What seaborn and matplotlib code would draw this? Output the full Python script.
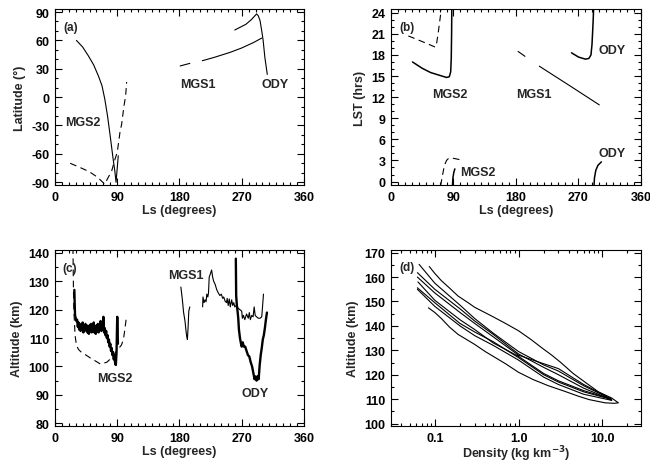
import numpy as np
import matplotlib
matplotlib.use('Agg')
import matplotlib.pyplot as plt
from matplotlib.ticker import MultipleLocator, FixedLocator, NullFormatter, LogLocator
import seaborn as sns

# ---------------- panel (a): latitude vs Ls ----------------
a_mgs2_ls = [31, 40, 48, 56, 63, 68, 72, 76, 80, 84, 86.5, 88.3, 91.5]
a_mgs2_lat = [60, 53, 44, 34, 22, 12, -2, -20, -42, -65, -78, -90, -62]
a_mgs2d_ls = [22, 35, 50, 62, 69, 72, 75.6, 82, 86.8, 90, 94, 96.4, 99.8, 102.2, 103.6]
a_mgs2d_lat = [-70, -74, -79, -85, -90, -92, -86.8, -78, -65.6, -58.5, -37, -28.6, -9.2, 1.4, 16]
a_mgs1_ls1 = [181, 195]
a_mgs1_lat1 = [33, 35.7]
a_mgs1_ls2 = [213, 230, 253, 270, 287, 299]
a_mgs1_lat2 = [38.5, 42, 47.3, 52, 57.7, 62.5]
a_ody_ls = [260, 268, 276, 284, 289, 291.5, 294, 296.5, 299, 301, 303.5, 307]
a_ody_lat = [71, 74, 77, 82, 86, 88, 86, 81, 70, 60, 42, 24]

# ---------------- panel (b): local solar time vs Ls ----------------
b_mgs2_ls1 = [31, 45, 57, 70, 80, 84, 86, 86.8, 87.3, 87.6]
b_mgs2_lst1 = [17, 16.1, 15.5, 15.1, 14.8, 14.9, 15.6, 17.5, 21, 24.6]
b_mgs2_ls2 = [88.5, 89.3, 90.5, 92]
b_mgs2_lst2 = [-0.6, 0.6, 1.3, 1.8]
b_mgs2d_ls1 = [25, 35, 45, 57, 64, 66, 68.5, 70.5, 72.5]
b_mgs2d_lst1 = [20.7, 20.3, 19.9, 19.4, 19.1, 19.8, 21.5, 23, 24.6]
b_mgs2d_ls2 = [71.5, 74, 77, 80, 83, 90, 100]
b_mgs2d_lst2 = [-0.6, 0.8, 2.3, 3.0, 3.3, 3.3, 3.1]
b_mgs1_ls1 = [183, 193]
b_mgs1_lst1 = [18.5, 17.8]
b_mgs1_ls2 = [213.6, 257.8, 300]
b_mgs1_lst2 = [16.4, 13.6, 10.9]
b_ody_ls1 = [260, 270, 280, 285, 288, 289.5, 290.5, 291.2, 291.8]
b_ody_lst1 = [18.3, 17.7, 17.4, 17.5, 18, 19.5, 21.5, 23, 24.6]
b_ody_ls2 = [292.4, 293, 295, 298, 303]
b_ody_lst2 = [-0.6, 0.5, 1.6, 2.3, 2.8]

# ---------------- panel (c): periapsis altitude vs Ls ----------------
c_mgs2d_ls = [26, 26.3, 26.7, 27.3, 29, 31, 34, 39, 45, 51, 58, 66, 75, 84, 89, 96, 99, 101, 103.6]
c_mgs2d_alt = [142, 135, 127, 120, 111, 107.5, 106, 104.8, 104, 103, 102, 100.8, 101.5, 103.5, 105.5, 107.5, 109.5, 113, 118]
c_mgs2_ls = [28, 28.5, 29, 30, 31, 32, 33, 34, 35, 36, 37, 38, 39, 40, 41, 42, 43, 44,
             45, 46, 47, 48, 49, 50, 51, 52, 53, 54, 55, 56, 57, 58, 59, 60, 61, 62,
             63, 64, 65, 66, 67, 68, 69, 70, 71, 72, 73, 74, 75, 76, 77, 78, 79, 80,
             81, 82, 83, 84, 85, 86, 87, 88, 89, 90, 91]
c_mgs2_alt = [127, 122, 118, 117, 116, 116.5, 114, 115.5, 113, 115, 112.5, 114.5, 113, 115.5, 112, 114, 112.5, 115,
              113, 114.5, 112, 114, 111.5, 114.5, 112.5, 115, 112, 114, 112.5, 115.5, 112, 114, 111.5, 114.5, 112.5, 115,
              112, 114.5, 113, 116, 112.5, 115.5, 113, 117.5, 112, 113.5, 111, 112.5, 110, 111, 108.5, 109.5, 107, 108,
              105.5, 106.5, 104, 105, 102.5, 104, 101, 100.5, 105, 117.5, 108]
c_mgs1_ls1 = [182, 184, 186, 188, 189.5, 190.5, 191.5, 192.5, 193.5, 195]
c_mgs1_alt1 = [128, 124, 119, 116, 112.5, 110.5, 109.5, 114, 119.5, 121]
c_mgs1_ls2 = [213.5, 214, 215.5, 217, 218.5, 219.5, 221, 222, 223, 224.5, 226.5, 228, 229.5, 231.5, 234,
              236, 238.5, 240.5, 242.5, 244, 246, 248, 249, 250.5, 252, 253.5, 255.5, 257, 258.5, 260,
              262.5, 265, 267.5, 270, 271, 272.5, 274.5, 277, 279.5, 281, 282.5, 284.5, 286.5, 288,
              289.5, 291.5, 294, 296.5, 299, 301.5]
c_mgs1_alt2 = [121, 124.5, 122.5, 123.5, 122.8, 125.5, 124.5, 126, 131.5, 132.5, 134, 131.5, 130, 129, 127,
               126, 125, 125.5, 124, 124.5, 123, 122.5, 124, 121.5, 123.8, 121, 123.5, 121.5, 122.5, 121,
               121.5, 120.5, 120, 119.5, 117, 118, 116.5, 118.5, 117, 119, 116.5, 118, 117.5, 121,
               118, 117.5, 117, 117, 117.5, 125.5]
c_ody_ls = [261.5, 262, 263, 264, 265, 266, 267.5, 269, 270, 271.5, 273, 275, 277, 279, 281, 283,
            285, 287, 288.5, 290, 291.5, 293, 294.5, 296, 297.5, 299, 300.5, 302, 303.5, 305, 306.5]
c_ody_alt = [138, 125, 121.5, 119.5, 117, 113, 110, 108, 107, 108.5, 107, 107, 105.5, 104, 103.5, 101.5,
             100, 97.5, 95.5, 96.5, 95, 96.5, 95.5, 100.5, 104, 106.5, 109.5, 111, 113.5, 116.5, 119]

# ---------------- panel (d): density profiles (inbound + outbound legs) ----------------
d_rho_1 = [0.086, 0.1, 0.12, 0.15, 0.19, 0.25, 0.3, 0.48, 0.7, 1.0, 1.4, 1.9, 2.5, 3.2, 4.5, 6.5, 9.0, 12.9, 15.6,
           14.0, 10.8, 7.0, 5.2, 3.5, 2.27, 1.5, 1.0, 0.7, 0.4, 0.3, 0.19, 0.15, 0.12, 0.1, 0.084]
d_alt_1 = [164.3, 161.5, 158.5, 155.5, 152.2, 149.5, 147.6, 144, 141, 138, 134.5, 131, 128, 125, 120.5, 116.5, 113, 110.5, 108.5,
           108.3, 108.5, 109.8, 111.2, 113.3, 115.5, 118, 121, 124.5, 129.5, 132.4, 136.5, 139.5, 143, 145.5, 147.4]
d_rho_2 = [0.065, 0.1, 0.2, 0.3, 0.5, 1.0, 2.0, 3.0, 6.0, 12.0, 12.5, 6.0, 3.0, 2.0, 1.0, 0.5, 0.3, 0.2, 0.1, 0.062]
d_alt_2 = [165.2, 157.5, 148.5, 143, 137, 129.5, 124, 121.5, 115.5, 110.5, 110, 113, 117, 120, 127, 133.5, 137.5, 141, 149.5, 155.6]
d_rho_3 = [0.062, 0.1, 0.2, 0.3, 0.5, 1.0, 2.0, 3.0, 6.0, 12.5, 13.0, 6.0, 3.0, 2.0, 1.0, 0.5, 0.3, 0.2, 0.1, 0.062]
d_alt_3 = [161.8, 155, 147, 142, 136.5, 128.5, 123, 120, 114.5, 110, 109.5, 112, 116, 119, 126, 132, 136, 140, 148, 155]
d_rho_4 = [0.062, 0.1, 0.2, 0.3, 0.5, 1.0, 2.0, 3.0, 6.0, 13.0, 6.0, 3.0, 2.0, 1.0, 0.5, 0.3, 0.2, 0.1, 0.063]
d_alt_4 = [160, 153.5, 145.5, 141, 135.5, 128, 124.5, 122.5, 116, 110, 113.5, 117.5, 120.5, 127.5, 133, 138.5, 142.5, 150.5, 158]

sns.set_style('ticks')
plt.rcParams['font.family'] = ['Liberation Sans', 'DejaVu Sans']
plt.rcParams['font.weight'] = 'bold'
plt.rcParams['axes.labelweight'] = 'bold'
plt.rcParams['axes.linewidth'] = 0.8
plt.rcParams['axes.unicode_minus'] = False
plt.rcParams['mathtext.default'] = 'bf'

THIN = 0.8
THICK = 1.7
DASH = (0, (6, 4))
TXT = 9


def line(ax, x, y, lw=THIN, ls='-'):
    sns.lineplot(x=x, y=y, ax=ax, sort=False, estimator=None, color='black',
                 linewidth=lw, linestyle=ls)


def style_axes(ax):
    ax.tick_params(which='both', direction='in', top=True, right=True,
                   labelsize=9, width=0.8, pad=4, colors='black')
    ax.tick_params(which='major', length=5)
    ax.tick_params(which='minor', length=2.5)
    for s in ax.spines.values():
        s.set_color('black')


def ls_axis(ax):
    ax.set_xlim(0, 360)
    ax.xaxis.set_major_locator(MultipleLocator(90))
    ax.xaxis.set_minor_locator(MultipleLocator(10))
    ax.set_xlabel('Ls (degrees)', fontsize=9, labelpad=1)


fig = plt.figure(figsize=(6.5, 4.64), dpi=100)
ax_a = fig.add_axes([0.0846, 0.599, 0.383, 0.379])
ax_b = fig.add_axes([0.6015, 0.599, 0.3846, 0.379])
ax_c = fig.add_axes([0.0846, 0.0797, 0.383, 0.379])
ax_d = fig.add_axes([0.6015, 0.0797, 0.3846, 0.379])

# (a)
line(ax_a, a_mgs2_ls, a_mgs2_lat)
line(ax_a, a_mgs2d_ls, a_mgs2d_lat, ls=DASH)
line(ax_a, a_mgs1_ls1, a_mgs1_lat1)
line(ax_a, a_mgs1_ls2, a_mgs1_lat2)
line(ax_a, a_ody_ls, a_ody_lat)
ls_axis(ax_a)
ax_a.set_ylim(-93, 93)
ax_a.yaxis.set_major_locator(MultipleLocator(30))
ax_a.yaxis.set_minor_locator(MultipleLocator(10))
ax_a.set_ylabel('Latitude (°)', fontsize=9)
ax_a.text(11.5, 74, '(a)', fontsize=8.5, va='center')
ax_a.text(14.5, -26.5, 'MGS2', fontsize=TXT, va='center')
ax_a.text(180.7, 14, 'MGS1', fontsize=TXT, va='center')
ax_a.text(298, 14, 'ODY', fontsize=TXT, va='center')

# (b)
line(ax_b, b_mgs2_ls1, b_mgs2_lst1, lw=1.1)
line(ax_b, b_mgs2_ls2, b_mgs2_lst2, lw=1.1)
line(ax_b, b_mgs2d_ls1, b_mgs2d_lst1, ls=DASH)
line(ax_b, b_mgs2d_ls2, b_mgs2d_lst2, ls=DASH)
line(ax_b, b_mgs1_ls1, b_mgs1_lst1)
line(ax_b, b_mgs1_ls2, b_mgs1_lst2)
line(ax_b, b_ody_ls1, b_ody_lst1, lw=1.1)
line(ax_b, b_ody_ls2, b_ody_lst2, lw=1.1)
ls_axis(ax_b)
ax_b.set_ylim(-0.5, 24.5)
ax_b.yaxis.set_major_locator(MultipleLocator(3))
ax_b.yaxis.set_minor_locator(MultipleLocator(1))
ax_b.set_ylabel('LST (hrs)', fontsize=9)
ax_b.text(11.5, 21.9, '(b)', fontsize=8.5, va='center')
ax_b.text(59, 12.4, 'MGS2', fontsize=TXT, va='center')
ax_b.text(180, 12.4, 'MGS1', fontsize=TXT, va='center')
ax_b.text(299.5, 18.7, 'ODY', fontsize=TXT, va='center')
ax_b.text(299.5, 4.1, 'ODY', fontsize=TXT, va='center')
ax_b.text(99.4, 1.3, 'MGS2', fontsize=TXT, va='center')

# (c)
line(ax_c, c_mgs2d_ls, c_mgs2d_alt, ls=DASH)
line(ax_c, c_mgs2_ls, c_mgs2_alt, lw=THICK)
line(ax_c, c_mgs1_ls1, c_mgs1_alt1)
line(ax_c, c_mgs1_ls2, c_mgs1_alt2)
line(ax_c, c_ody_ls, c_ody_alt, lw=THICK)
ls_axis(ax_c)
ax_c.set_ylim(79, 141)
ax_c.yaxis.set_major_locator(MultipleLocator(10))
ax_c.yaxis.set_minor_locator(MultipleLocator(5))
ax_c.set_ylabel('Altitude (km)', fontsize=9)
ax_c.text(10, 134.7, '(c)', fontsize=8.5, va='center')
ax_c.text(163, 132.4, 'MGS1', fontsize=TXT, va='center')
ax_c.text(60.7, 96, 'MGS2', fontsize=TXT, va='center')
ax_c.text(270, 90.8, 'ODY', fontsize=TXT, va='center')

# (d)
for r, z in [(d_rho_1, d_alt_1), (d_rho_2, d_alt_2), (d_rho_3, d_alt_3), (d_rho_4, d_alt_4)]:
    line(ax_d, r, z)
ax_d.set_xscale('log')
ax_d.set_xlim(0.03, 29)
ax_d.xaxis.set_major_locator(FixedLocator([0.1, 1.0, 10.0]))
ax_d.set_xticklabels(['0.1', '1.0', '10.0'])
ax_d.xaxis.set_minor_locator(LogLocator(base=10, subs=np.arange(2, 10)))
ax_d.xaxis.set_minor_formatter(NullFormatter())
ax_d.set_ylim(99, 171)
ax_d.yaxis.set_major_locator(MultipleLocator(10))
ax_d.yaxis.set_minor_locator(MultipleLocator(5))
ax_d.set_xlabel('Density (kg km$^{-3}$)', fontsize=9, labelpad=0)
ax_d.set_ylabel('Altitude (km)', fontsize=9)
ax_d.text(0.0382, 164, '(d)', fontsize=8.5, va='center')

for ax in (ax_a, ax_b, ax_c, ax_d):
    style_axes(ax)

fig.savefig('out.png', dpi=100)
